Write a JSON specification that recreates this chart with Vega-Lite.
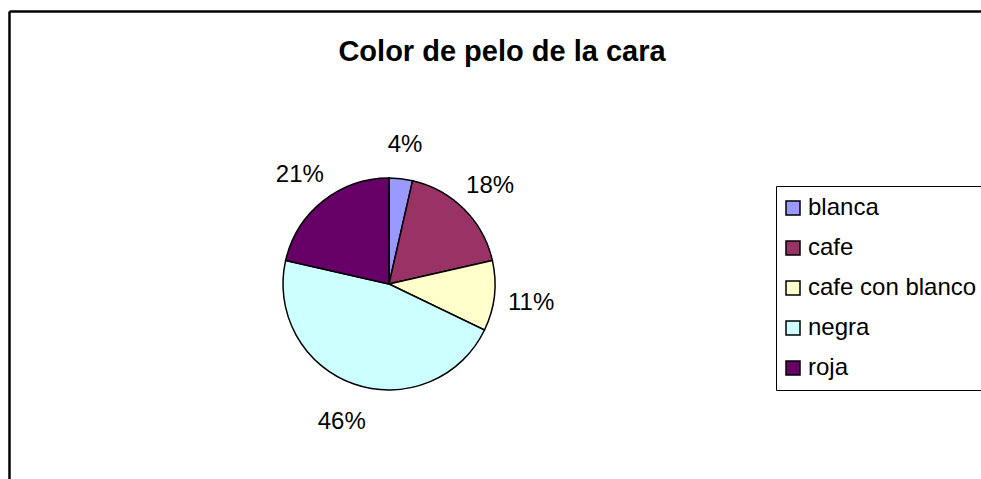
{
  "$schema": "https://vega.github.io/schema/vega-lite/v6.json",
  "padding": {"left": 9, "top": 8, "right": 0, "bottom": 0},
  "background": "white",
  "width": 760,
  "height": 546,
  "view": {"stroke": null},
  "title": {
    "text": "Color de pelo de la cara",
    "font": "Liberation Sans",
    "fontSize": 29,
    "fontWeight": "bold",
    "color": "black",
    "anchor": "middle",
    "dx": 113,
    "offset": -59
  },
  "data": {
    "values": [
      {"color": "blanca", "n": 1, "label": "4%"},
      {"color": "cafe", "n": 5, "label": "18%"},
      {"color": "cafe con blanco", "n": 3, "label": "11%"},
      {"color": "negra", "n": 13, "label": "46%"},
      {"color": "roja", "n": 6, "label": "21%"}
    ]
  },
  "layer": [
    {
      "mark": {"type": "point", "opacity": 0},
      "encoding": {
        "x": {
          "field": "n",
          "type": "quantitative",
          "scale": {"range": [0, 975]},
          "axis": {"orient": "top", "ticks": false, "labels": false, "grid": false, "title": null, "domainColor": "black", "domainWidth": 2.5}
        },
        "y": {
          "field": "n",
          "type": "quantitative",
          "axis": {"orient": "left", "ticks": false, "labels": false, "grid": false, "title": null, "domainColor": "black", "domainWidth": 2.5}
        }
      }
    },
    {
      "mark": {"type": "arc", "outerRadius": 106, "stroke": "black", "strokeWidth": 1.5},
      "encoding": {
        "theta": {"field": "n", "type": "quantitative", "stack": true},
        "order": {"field": "color", "type": "ordinal", "sort": "ascending"},
        "color": {
          "field": "color",
          "type": "nominal",
          "scale": {
            "domain": ["blanca", "cafe", "cafe con blanco", "negra", "roja"],
            "range": ["#9999FF", "#993366", "#FFFFCC", "#CCFFFF", "#660066"]
          },
          "legend": {
            "title": null,
            "orient": "none",
            "legendX": 767,
            "legendY": 175,
            "symbolType": "square",
            "symbolSize": 196,
            "symbolStrokeColor": "black",
            "symbolStrokeWidth": 1.5,
            "symbolOpacity": 1,
            "symbolOffset": -5,
            "labelFont": "Liberation Sans",
            "labelFontSize": 24,
            "labelColor": "black",
            "labelOffset": 3,
            "labelLimit": 400,
            "rowPadding": 16,
            "padding": 10,
            "strokeColor": "black",
            "fillColor": "white"
          }
        }
      }
    },
    {
      "mark": {"type": "text", "radius": 143, "dy": 3, "font": "Liberation Sans", "fontSize": 24, "color": "black"},
      "encoding": {
        "theta": {"field": "n", "type": "quantitative", "stack": true},
        "order": {"field": "color", "type": "ordinal", "sort": "ascending"},
        "detail": {"field": "color", "type": "nominal"},
        "text": {"field": "label", "type": "nominal"}
      }
    }
  ]
}
